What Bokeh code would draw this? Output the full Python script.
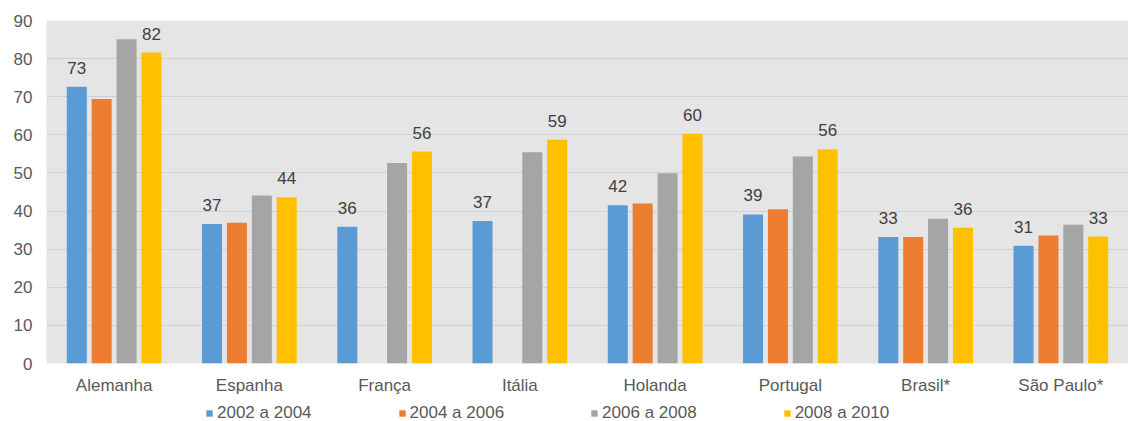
import math
from bokeh.plotting import figure
from bokeh.layouts import column
from bokeh.models import ColumnDataSource, FactorRange, Range1d, Legend, LegendItem
from bokeh.transform import dodge
from bokeh.core.properties import value
from bokeh.embed import file_html
from bokeh.resources import INLINE

categories = ["Alemanha", "Espanha", "França", "Itália", "Holanda", "Portugal", "Brasil*", "São Paulo*"]
series_names = ["2002 a 2004", "2004 a 2006", "2006 a 2008", "2008 a 2010"]
s2002_2004 = [72.6, 36.6, 35.9, 37.4, 41.5, 39.1, 33.2, 30.9]
s2004_2006 = [69.4, 36.9, float("nan"), float("nan"), 42.0, 40.5, 33.2, 33.6]
s2006_2008 = [85.1, 44.1, 52.6, 55.4, 49.9, 54.3, 38.0, 36.4]
s2008_2010 = [81.6, 43.6, 55.6, 58.7, 60.3, 56.2, 35.6, 33.3]
y_ticks = [0, 10, 20, 30, 40, 50, 60, 70, 80, 90]

colors = ["#5B9BD5", "#ED7D31", "#A5A5A5", "#FFC000"]
offsets = [-0.276, -0.092, 0.092, 0.276]
FONT = "Liberation Sans"

p = figure(frame_width=1082, frame_height=343, x_range=FactorRange(*categories, range_padding=0),
           y_range=Range1d(0, 90), output_backend="svg", toolbar_location=None,
           min_border_left=46, min_border_right=0, min_border_top=20, min_border_bottom=32)
p.background_fill_color = "#e5e5e5"
p.border_fill_color = "white"
p.outline_line_color = None

src = ColumnDataSource(dict(
    cat=categories, s0=s2002_2004, s1=s2004_2006, s2=s2006_2008, s3=s2008_2010,
    l0=["%.0f" % v for v in s2002_2004], l3=["%.0f" % v for v in s2008_2010]))

for i in range(4):
    p.vbar(x=dodge("cat", offsets[i], range=p.x_range), top="s%d" % i, width=0.148,
           source=src, fill_color=colors[i], line_color=None)

for i, lab in [(0, "l0"), (3, "l3")]:
    p.text(x=dodge("cat", offsets[i], range=p.x_range), y="s%d" % i, text=lab, source=src,
           text_align="center", text_baseline="alphabetic", y_offset=-19,
           text_font=value(FONT), text_font_size="17px", text_color="#404040")

p.xgrid.grid_line_color = None
p.ygrid.grid_line_color = "#d0d0d0"
p.ygrid.grid_line_width = 1
p.yaxis.ticker = y_ticks
for ax in (p.xaxis, p.yaxis):
    ax.axis_line_color = None
    ax.major_tick_line_color = None
    ax.minor_tick_line_color = None
    ax.major_tick_out = 0
    ax.major_tick_in = 0
    ax.major_label_text_font = FONT
    ax.major_label_text_font_size = "17px"
    ax.major_label_text_color = "#595959"
p.yaxis.major_label_standoff = 14
p.xaxis.major_label_standoff = 12

# legend strip below the chart (frame aligned with the chart's frame)
lg = figure(width=1128, height=26, x_range=Range1d(0, 1), y_range=Range1d(0, 1),
            x_axis_type=None, y_axis_type=None, output_backend="svg", toolbar_location=None,
            min_border=0)
lg.outline_line_color = None
lg.xgrid.grid_line_color = None
lg.ygrid.grid_line_color = None
items = []
for i in range(4):
    # proxy renderer kept outside the visible range; only its legend swatch shows
    r = lg.vbar(x=[5], top=[6], bottom=[5], width=0.1, fill_color=colors[i], line_color=None)
    items.append(LegendItem(label=series_names[i], renderers=[r]))
legend = Legend(items=items, orientation="horizontal", location=(159, 0),
                label_text_font=FONT, label_text_font_size="17px", label_text_color="#595959",
                glyph_width=8, glyph_height=8, label_standoff=4, spacing=86,
                padding=0, margin=0, border_line_color=None, background_fill_alpha=0)
lg.add_layout(legend, "center")

layout = column(p, lg, spacing=0)
open("out.html", "w").write(file_html(layout, INLINE))
